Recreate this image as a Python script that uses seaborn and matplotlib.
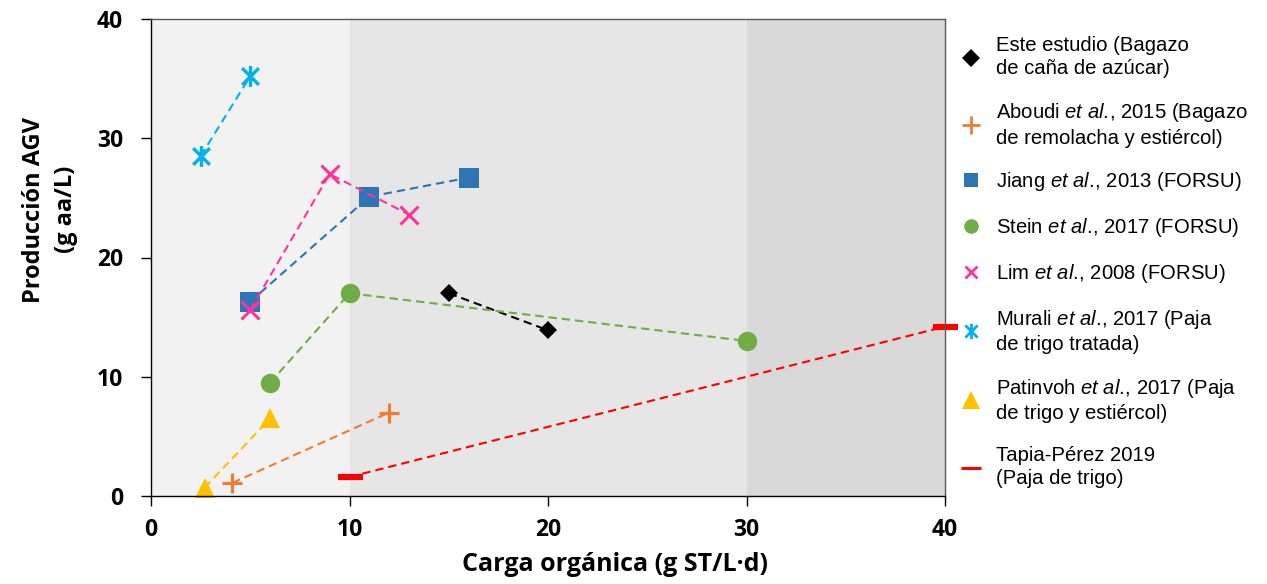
import matplotlib
matplotlib.use("Agg")
import matplotlib.pyplot as plt
from matplotlib.lines import Line2D
from matplotlib.path import Path
import pandas as pd
import seaborn as sns

# Carga orgánica (g ST/L·d) frente a producción de AGV (g aa/L)
este_x = [15, 20]
este_y = [17.0, 13.9]
aboudi_x = [4.1, 12]
aboudi_y = [1.1, 7.0]
jiang_x = [5, 11, 16]
jiang_y = [16.3, 25.1, 26.7]
stein_x = [6, 10, 30]
stein_y = [9.5, 17.0, 13.0]
lim_x = [5, 9, 13]
lim_y = [15.6, 27.0, 23.6]
murali_x = [2.5, 5]
murali_y = [28.5, 35.2]
patinvoh_x = [2.7, 6]
patinvoh_y = [0.7, 6.5]
tapia_x = [10, 40]
tapia_y = [1.6, 14.2]

ETAL = "$\\mathit{et\\ al.}\\!$,"
series_labels = [
    "Este estudio (Bagazo\nde caña de azúcar)",
    f"Aboudi {ETAL} 2015 (Bagazo\nde remolacha y estiércol)",
    f"Jiang {ETAL} 2013 (FORSU)",
    f"Stein {ETAL} 2017 (FORSU)",
    f"Lim {ETAL} 2008 (FORSU)",
    f"Murali {ETAL} 2017 (Paja\nde trigo tratada)",
    f"Patinvoh {ETAL} 2017 (Paja\nde trigo y estiércol)",
    "Tapia-Pérez 2019\n(Paja de trigo)",
]

# shaded loading ranges
band_edges = [0, 10, 30, 40]
band_colors = ["#f2f2f2", "#e6e6e6", "#d9d9d9"]

x_ticks = [0, 10, 20, 30, 40]
y_ticks = [0, 10, 20, 30, 40]

# six-armed asterisk marker (vertical arm plus diagonal cross)
star_path = Path(
    [(0, -1), (0, 1), (-0.8, -0.8), (0.8, 0.8), (-0.8, 0.8), (0.8, -0.8)],
    [Path.MOVETO, Path.LINETO, Path.MOVETO, Path.LINETO, Path.MOVETO, Path.LINETO],
)

series = [
    (este_x, este_y, dict(color="#000000", marker="D", ms=9.2, mew=0, lms=9.2)),
    (aboudi_x, aboudi_y, dict(color="#ED7D31", marker="+", ms=15, mew=2.3, lms=13.5)),
    (jiang_x, jiang_y, dict(color="#2E75B6", marker="s", ms=14, mew=0, lms=10)),
    (stein_x, stein_y, dict(color="#70AD47", marker="o", ms=14, mew=0, lms=10.5)),
    (lim_x, lim_y, dict(color="#FF3399", marker="x", ms=13, mew=2.2, lms=8.5)),
    (murali_x, murali_y, dict(color="#00B0F0", marker=star_path, ms=15, mew=2.4, lms=11)),
    (patinvoh_x, patinvoh_y, dict(color="#FFC000", marker="^", ms=15, mew=0, lms=13)),
    (tapia_x, tapia_y, dict(color="#FF0000", marker="_", ms=18, mew=4.4, lms=14)),
]

sns.set_theme(style="white")
plt.rcParams["font.family"] = ["Liberation Sans", "DejaVu Sans"]
plt.rcParams["mathtext.fontset"] = "custom"
plt.rcParams["mathtext.rm"] = "Liberation Sans"
plt.rcParams["mathtext.it"] = "Liberation Sans:italic"
for key in ["text.color", "axes.labelcolor", "xtick.color", "ytick.color"]:
    plt.rcParams[key] = "black"

fig = plt.figure(figsize=(12.67, 5.84), dpi=100)
ax = fig.add_axes([151 / 1267, 88 / 584, 794 / 1267, 477 / 584])

for lo, hi, c in zip(band_edges[:-1], band_edges[1:], band_colors):
    ax.axvspan(lo, hi, color=c, lw=0, zorder=0)

handles = []
for (xs, ys, st), lab in zip(series, series_labels):
    df = pd.DataFrame({"carga": xs, "agv": ys})
    sns.lineplot(
        data=df, x="carga", y="agv", ax=ax, color=st["color"],
        linestyle=(0, (4, 2.4)), linewidth=1.5, errorbar=None,
        marker=st["marker"], markersize=st["ms"],
        markeredgewidth=st["mew"], markeredgecolor=st["color"],
        markerfacecolor=st["color"], clip_on=False, legend=False,
    )
    if st["marker"] == "_":
        lmew = 2.2
    else:
        lmew = 2.0 if st["mew"] > 0 else 0
    handles.append(Line2D([], [], linestyle="none", marker=st["marker"],
                          markersize=st["lms"], color=st["color"],
                          markeredgecolor=st["color"], markeredgewidth=lmew))

ax.set_xlim(0, 40)
ax.set_ylim(0, 40)
ax.set_xticks(x_ticks)
ax.set_yticks(y_ticks)

tick_font = dict(family="Open Sans", weight="bold", size=16.5)
ax.set_xticklabels([str(t) for t in x_ticks], fontdict=tick_font)
ax.set_yticklabels([str(t) for t in y_ticks], fontdict=tick_font)
ax.tick_params(axis="x", direction="out", length=7, width=1, color="black",
               pad=9, bottom=True)
ax.tick_params(axis="y", direction="out", length=7, width=1, color="black",
               pad=13, left=True)

for side in ["left", "bottom"]:
    ax.spines[side].set_color("black")
    ax.spines[side].set_linewidth(1.0)
for side in ["top", "right"]:
    ax.spines[side].set_color("#595959")
    ax.spines[side].set_linewidth(1.0)

ax.set_xlabel("Carga orgánica (g ST/L·d)", family="Open Sans", weight="bold",
              size=18)
ax.xaxis.set_label_coords(0.585, -0.118)
ax.xaxis.label.set_va("top")

ax.set_ylabel("Producción AGV\n(g aa/L)", family="Open Sans", weight="bold",
              size=17, linespacing=1.45)
ax.yaxis.set_label_coords(-0.092, 0.60)

leg = ax.legend(
    handles, series_labels, loc="upper left",
    bbox_to_anchor=(956 / 1267, 1 - 36 / 584), bbox_transform=fig.transFigure,
    frameon=False, prop=dict(family="Liberation Sans", size=14.6),
    labelspacing=1.12, handlelength=1.45, handletextpad=0.5,
    borderpad=0, borderaxespad=0,
)
for t in leg.get_texts():
    t.set_linespacing(1.3)

fig.savefig("out.png", dpi=100)
